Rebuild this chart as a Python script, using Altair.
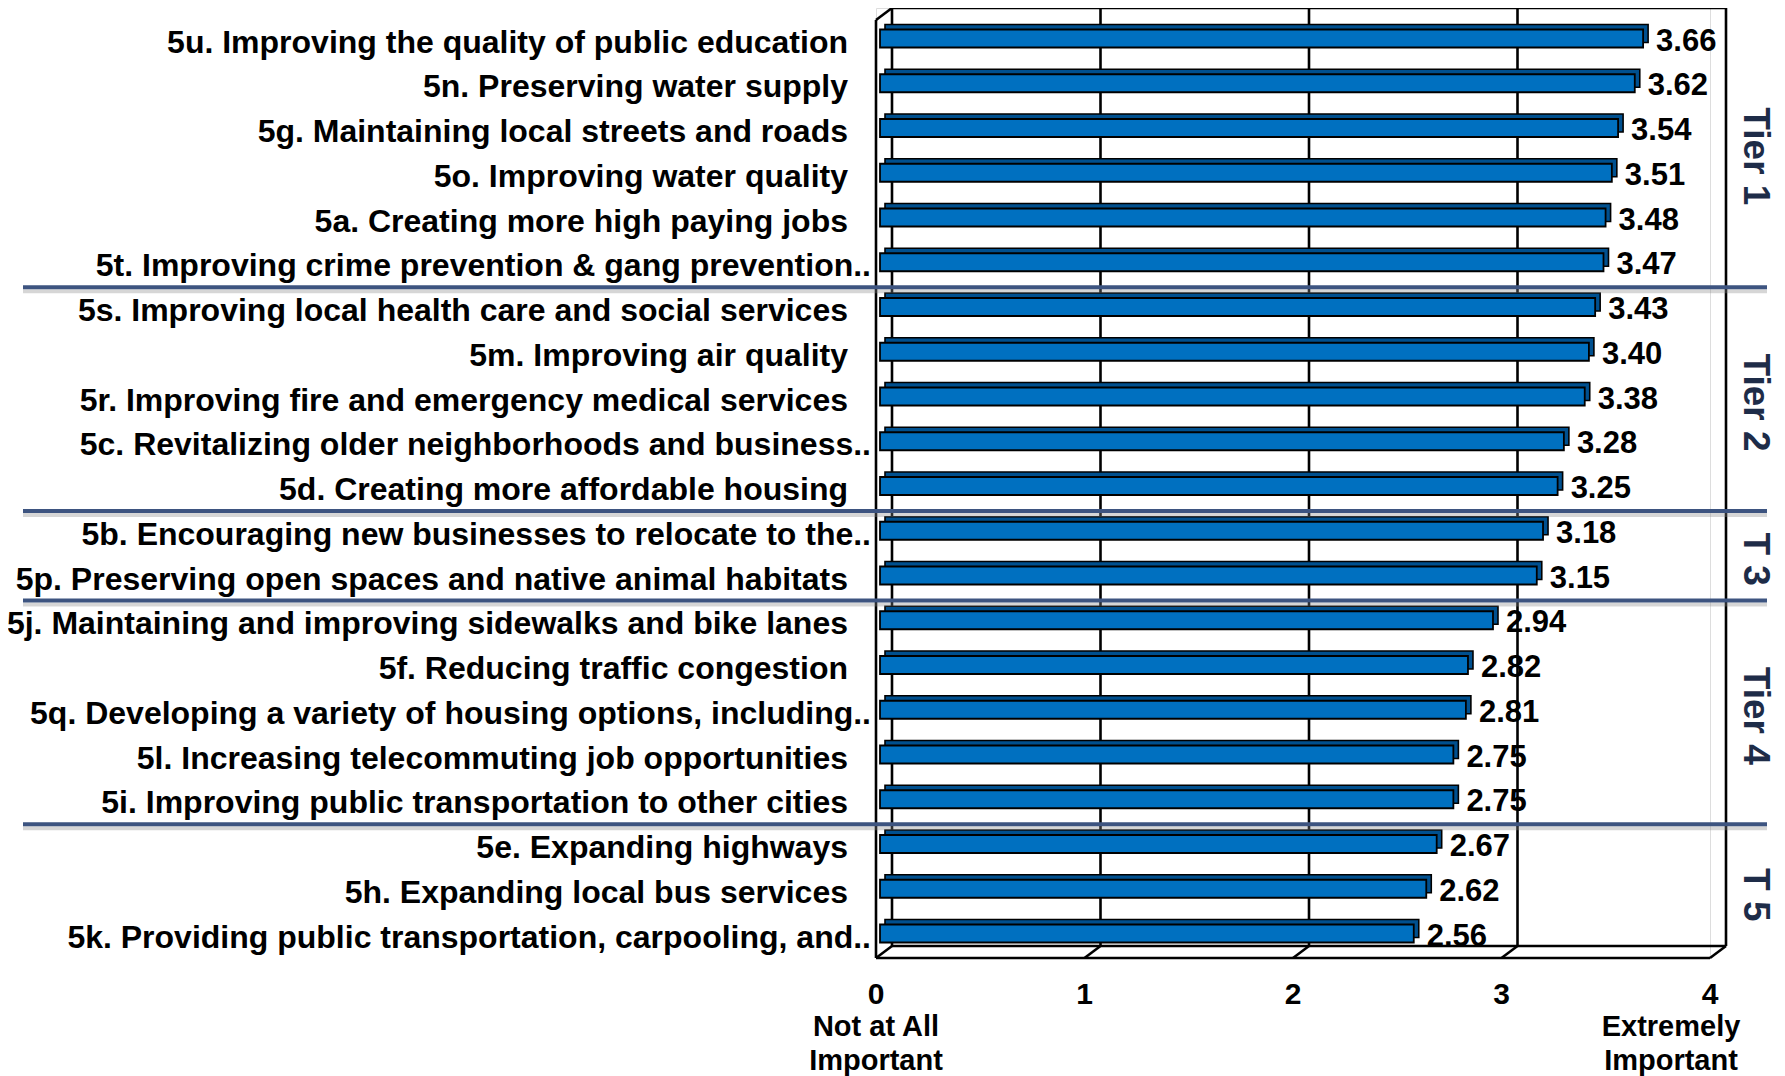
import altair as alt
import pandas as pd

# ---------------- data ----------------
items = [
    "5u. Improving the quality of public education",
    "5n. Preserving water supply",
    "5g. Maintaining local streets and roads",
    "5o. Improving water quality",
    "5a. Creating more high paying jobs",
    "5t. Improving crime prevention & gang prevention..",
    "5s. Improving local health care and social services",
    "5m. Improving air quality",
    "5r. Improving fire and emergency medical services",
    "5c. Revitalizing older neighborhoods and business..",
    "5d. Creating more affordable housing",
    "5b. Encouraging new businesses to relocate to the..",
    "5p. Preserving open spaces and native animal habitats",
    "5j. Maintaining and improving sidewalks and bike lanes",
    "5f. Reducing traffic congestion",
    "5q. Developing a variety of housing options, including..",
    "5l. Increasing telecommuting job opportunities",
    "5i. Improving public transportation to other cities",
    "5e. Expanding highways",
    "5h. Expanding local bus services",
    "5k. Providing public transportation, carpooling, and..",
]
values = [3.66, 3.62, 3.54, 3.51, 3.48, 3.47, 3.43, 3.40, 3.38, 3.28, 3.25,
          3.18, 3.15, 2.94, 2.82, 2.81, 2.75, 2.75, 2.67, 2.62, 2.56]
tier_names = ["Tier 1", "Tier 2", "T 3", "Tier 4", "T 5"]
tier_sizes = [6, 5, 2, 5, 3]
x_ticks = [0, 1, 2, 3, 4]
end_labels = ["Not at All\nImportant", "Extremely\nImportant"]

# ---------------- geometry / style ----------------
W, H = 834, 950
DX, DY = 16, 12
BAND_RANGE = [8.125, 947.875]
FONT = "Liberation Sans"
BLUE = "#0070C0"
DARK = "#00508F"
NAVY = "#3D5480"
TIER_COLOR = "#1E2C48"

df = pd.DataFrame({"item": items, "value": values})
df["trunc"] = df["item"].str.endswith("..")

starts = [sum(tier_sizes[:i]) for i in range(len(tier_sizes))]
tiers = pd.DataFrame({
    "tier": tier_names,
    "mid": [s + n / 2 for s, n in zip(starts, tier_sizes)],
})
bounds = pd.DataFrame({"b": [s for s in starts[1:]]})
ticks = pd.DataFrame({"v": x_ticks})
span = pd.DataFrame({"a": [min(x_ticks)], "b": [max(x_ticks)]})

xscale = alt.Scale(domain=[0, 4], nice=False, zero=False)
yband = alt.Scale(domain=items, range=BAND_RANGE, paddingInner=0, paddingOuter=0)
yq = alt.Scale(domain=[0, len(items)], range=BAND_RANGE, nice=False, zero=False)


def X(field):
    return alt.X(field, type="quantitative", scale=xscale, axis=None)


def YB():
    return alt.Y("item:N", scale=yband, axis=None, sort=items)


line_kw = dict(color="black", strokeWidth=2.6)

# ---------------- 3D frame ----------------
back_grid = alt.Chart(ticks).mark_rule(xOffset=DX, **line_kw).encode(
    x=X("v"), y=alt.value(0), y2=alt.value(H - DY))
back_top = alt.Chart(span).mark_rule(xOffset=DX, x2Offset=DX, **line_kw).encode(
    x=X("a"), x2="b", y=alt.value(0))
back_floor = alt.Chart(span).mark_rule(xOffset=DX, x2Offset=DX, **line_kw).encode(
    x=X("a"), x2="b", y=alt.value(H - DY))
front_floor = alt.Chart(span).mark_rule(**line_kw).encode(
    x=X("a"), x2="b", y=alt.value(H))
diagonals = alt.Chart(ticks).mark_rule(x2Offset=DX, **line_kw).encode(
    x=X("v"), x2="v", y=alt.value(H), y2=alt.value(H - DY))
left_front = alt.Chart(span).mark_rule(**line_kw).encode(
    x=X("a"), y=alt.value(DY), y2=alt.value(H))
left_top = alt.Chart(span).mark_rule(x2Offset=DX, **line_kw).encode(
    x=X("a"), x2="a", y=alt.value(DY), y2=alt.value(0))

# ---------------- bars ----------------
bar_shadow = alt.Chart(df).mark_bar(
    size=18, fill=DARK, stroke="black", strokeWidth=1.6,
    xOffset=9, x2Offset=9, yOffset=-5, y2Offset=-5
).encode(x=X("value"), x2=alt.datum(0), y=YB())

bars = alt.Chart(df).mark_bar(
    size=18, fill=BLUE, stroke="black", strokeWidth=1.8,
    xOffset=4, x2Offset=4
).encode(x=X("value"), x2=alt.datum(0), y=YB())

value_labels = alt.Chart(df).mark_text(
    align="left", baseline="middle", dx=17, dy=3, font=FONT, fontSize=31,
    fontWeight="bold", color="black"
).encode(x=X("value"), y=YB(), text=alt.Text("value:Q", format=".2f"))

# ---------------- category labels ----------------
lab_kw = dict(align="right", baseline="middle", dy=4, font=FONT, fontSize=32,
              fontWeight="bold", color="black")
labels_full = alt.Chart(df).transform_filter("!datum.trunc").mark_text(**lab_kw).encode(
    x=alt.value(-28), y=YB(), text="item:N")
labels_trunc = alt.Chart(df).transform_filter("datum.trunc").mark_text(**lab_kw).encode(
    x=alt.value(-5), y=YB(), text="item:N")

# ---------------- x tick labels and end labels ----------------
tick_labels = alt.Chart(ticks).mark_text(
    align="center", baseline="middle", font=FONT, fontSize=30,
    fontWeight="bold", color="black"
).encode(x=X("v"), y=alt.value(H + 37), text=alt.Text("v:Q", format="d"))

end_df = pd.DataFrame({"v": [x_ticks[0], x_ticks[-1]], "t": end_labels})
end_kw = dict(baseline="top", font=FONT, fontSize=29, fontWeight="bold",
              color="black", lineBreak="\n", lineHeight=34)
end_left = alt.Chart(end_df.iloc[[0]]).mark_text(align="center", **end_kw).encode(
    x=X("v"), y=alt.value(H + 55), text="t:N")
end_right = alt.Chart(end_df.iloc[[1]]).mark_text(align="center", dx=-39, **end_kw).encode(
    x=X("v"), y=alt.value(H + 55), text="t:N")

# ---------------- tier separators and labels ----------------
sep_shadow = alt.Chart(bounds).mark_rule(
    color="#8A8A8A", strokeWidth=4, opacity=0.35, yOffset=6.5
).encode(x=alt.value(-853), x2=alt.value(W + 57),
         y=alt.Y("b:Q", scale=yq, axis=None))
separators = alt.Chart(bounds).mark_rule(
    color=NAVY, strokeWidth=4, yOffset=2.5
).encode(x=alt.value(-853), x2=alt.value(W + 57),
         y=alt.Y("b:Q", scale=yq, axis=None))
tier_labels = alt.Chart(tiers).mark_text(
    angle=90, align="center", baseline="middle", font=FONT, fontSize=37,
    fontWeight="bold", color=TIER_COLOR, yOffset=6
).encode(x=alt.value(W + 45), y=alt.Y("mid:Q", scale=yq, axis=None), text="tier:N")

chart = alt.layer(
    back_grid, back_top, back_floor, front_floor, diagonals, left_front, left_top,
    bar_shadow, bars, value_labels, labels_full, labels_trunc,
    tick_labels, end_left, end_right, sep_shadow, separators, tier_labels
).resolve_scale(y="independent").properties(
    width=W, height=H,
    autosize=alt.AutoSizeParams(type="none"),
    padding={"left": 868, "top": 0, "right": 66, "bottom": 122},
).configure_view(stroke=None).configure(background="white")

chart.save("out.html", embed_options={"renderer": "svg", "actions": False})
